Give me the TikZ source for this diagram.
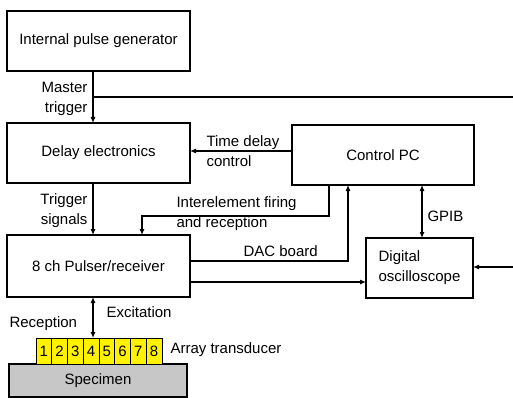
\documentclass[tikz,border=0pt]{standalone}
\usepackage{fontspec}
\setmainfont{Liberation Sans}
\usetikzlibrary{arrows.meta}
\begin{document}
\begin{tikzpicture}[x=1pt,y=-1pt,
  font=\fontsize{15}{20}\selectfont,
  line width=1.1pt,
  box/.style={draw, line width=1.1pt, inner sep=0pt, outer sep=0pt},
  arr/.style={-{Latex[length=6pt,width=5pt]}},
  darr/.style={{Latex[length=6pt,width=5pt]}-{Latex[length=6pt,width=5pt]}},
  lbl/.style={inner sep=0pt},
  cell/.style={draw, line width=0.9pt, fill=yellow, inner sep=0pt, outer sep=0pt, minimum width=15.75pt, minimum height=26pt}]
\useasboundingbox (0,0) rectangle (513,398);
% boxes
\node[box, minimum width=183pt, minimum height=60pt] (ipg) at (98.5,41) {Internal pulse generator};
\node[box, minimum width=183pt, minimum height=60pt] (delay) at (98.5,153) {Delay electronics};
\node[box, minimum width=183pt, minimum height=62pt] (pulser) at (98.5,266) {8 ch Pulser/receiver};
\node[box, minimum width=182pt, minimum height=60pt] (pc) at (383,155) {Control PC};
\node[box, minimum width=107pt, minimum height=60pt, align=left] (osc) at (419.5,268) {Digital\\oscilloscope};
% specimen and array
\node[box, fill=black!22, minimum width=178pt, minimum height=33pt] (spec) at (98,380.5) {Specimen};
\foreach \i in {1,...,8}{
  \node[cell] (c\i) at ({36+15.75*(\i-0.5)},351) {\i};
}
% coordinates
\coordinate (mt) at (93,97);
\coordinate (mte) at (513,97);
\coordinate (ine) at (513,267);
\coordinate (td) at (0,151);
\coordinate (ie1) at (329,216);
\coordinate (ie2) at (142,216);
\coordinate (dac) at (348,261);
\coordinate (po) at (0,282);
% connectors
\draw[arr] (ipg.south -| mt) -- (delay.north -| mt);
\draw (mt) -- (mte);
\draw[arr] (pc.west |- td) -- (delay.east |- td);
\draw[arr] (delay.south -| mt) -- (pulser.north -| mt);
\draw[arr] (pc.south -| ie1) -- (ie1) -- (ie2) -- (pulser.north -| ie2);
\draw[arr] (pulser.east |- dac) -- (dac) -- (pc.south -| dac);
\draw[arr] (pulser.east |- po) -- (osc.west |- po);
\draw[darr] (pc.south -| 422,0) -- (osc.north -| 422,0);
\draw[arr] (ine) -- (osc.east |- ine);
\draw[darr] (pulser.south -| mt) -- (c4.north -| mt);
% labels
\node[lbl, anchor=east, align=right] (lmt) at (88,99) {Master\\trigger};
\node[lbl, anchor=west, align=left] (ltd) at (206,151) {Time delay\\control};
\node[lbl, anchor=east, align=right] (lts) at (88,211) {Trigger\\signals};
\node[lbl, anchor=west, align=left] (lie) at (176,214) {Interelement firing\\and reception};
\node[lbl, anchor=west] (ldac) at (243,251) {DAC board};
\node[lbl, anchor=west] (lgpib) at (427,216) {GPIB};
\node[lbl, anchor=west] (lexc) at (106,312) {Excitation};
\node[lbl, anchor=west] (lrec) at (9,324) {Reception};
\node[lbl, anchor=west] (larr) at (170,350) {Array transducer};
\end{tikzpicture}
\end{document}
